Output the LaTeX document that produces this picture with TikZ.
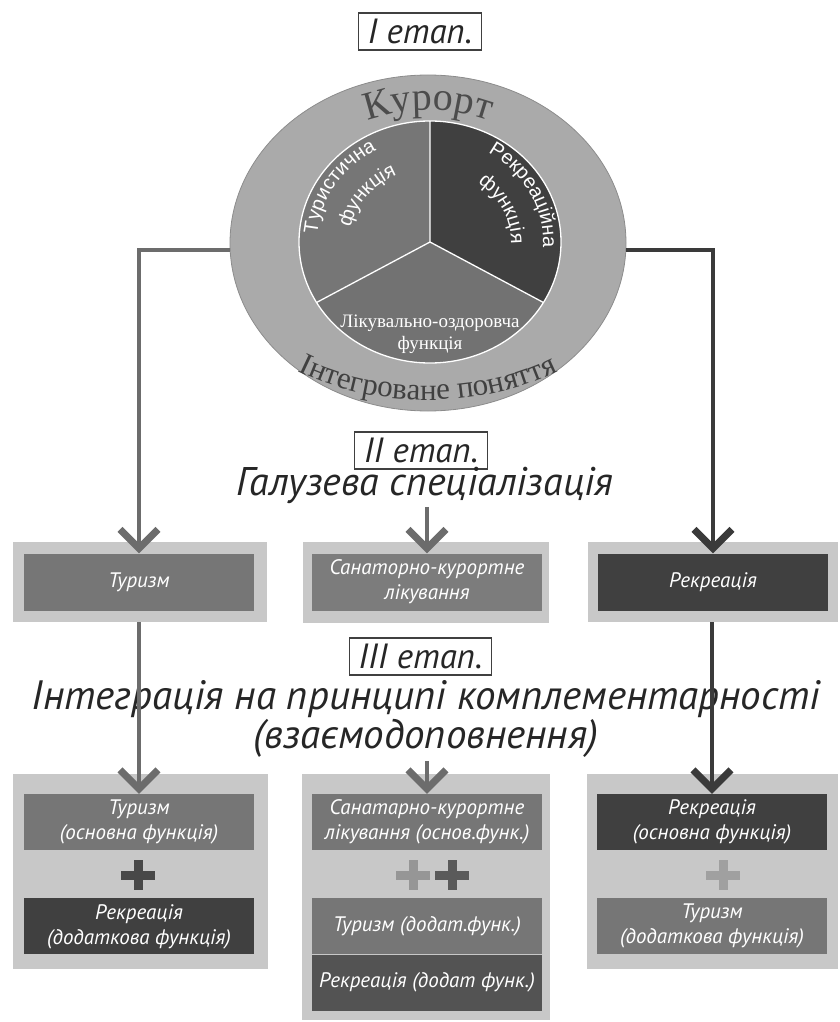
\documentclass[tikz,border=0pt]{standalone}
\usepackage{fontspec}
\setmainfont{PT Sans}
\newfontfamily\ringfont{Liberation Serif}
\newfontfamily\sectorfont{Liberation Sans}
\usetikzlibrary{arrows.meta,positioning,calc,shapes.geometric,fit,decorations.text}
\definecolor{ringgray}{RGB}{170,170,170}
\definecolor{tourgray}{RGB}{118,118,118}
\definecolor{recdark}{RGB}{64,64,64}
\definecolor{healgray}{RGB}{114,114,114}
\definecolor{sangray}{RGB}{124,124,124}
\definecolor{framegray}{RGB}{200,200,200}
\definecolor{arrowgray}{RGB}{108,108,108}
\definecolor{arrowdark}{RGB}{58,58,58}
\definecolor{pluslight}{RGB}{150,150,150}
\definecolor{plusdark}{RGB}{72,72,72}
\tikzset{
  stagebox/.style={draw=black!75,line width=1.1pt,inner xsep=9pt,inner ysep=1pt,
    minimum height=37,font=\fontsize{35}{35}\selectfont\itshape,text=black!85},
  headtext/.style={align=center,font=\fontsize{40}{29}\selectfont\itshape,text=black!85},
  framebox/.style={fill=framegray,inner sep=0pt},
  funcbox/.style={align=center,text=white,inner sep=0pt,minimum width=230,minimum height=56,
    font=\fontsize{21}{25}\selectfont\itshape},
  tourbox/.style={funcbox,fill=tourgray},
  recbox/.style={funcbox,fill=recdark},
  sanbox/.style={funcbox,fill=sangray},
  flowarrow/.style={line width=3.5pt,draw=arrowgray,
    -{Straight Barb[length=19pt,width=38pt,line width=7pt]}},
  darkarrow/.style={flowarrow,draw=arrowdark},
  ringtext/.style={decorate,decoration={text along path,text align=center,#1}},
  plusmark/.pic={\draw[line width=9pt] (-17,0) -- (17,0) (0,-15) -- (0,15);}
}
\begin{document}
\begin{tikzpicture}[x=1pt,y=-1pt]
  \useasboundingbox (0,0) rectangle (840,1022);
  % stage I: the resort as one notion
  \node[stagebox] (st1) at (420,31.5) {І етап.};
  \node[ellipse,fill=ringgray,draw=black!45,line width=0.8pt,
    minimum width=396,minimum height=336] (ring) at (428,243) {};
  \coordinate (hub) at (430,242);
  \fill[tourgray] (hub) -- ++(150:131 and 121)
    arc[start angle=150,end angle=270,x radius=131,y radius=121] -- cycle;
  \fill[recdark] (hub) -- ++(270:131 and 121)
    arc[start angle=270,end angle=390,x radius=131,y radius=121] -- cycle;
  \fill[healgray] (hub) -- ++(30:131 and 121)
    arc[start angle=30,end angle=150,x radius=131,y radius=121] -- cycle;
  \draw[white,line width=1.3pt] (hub) ellipse[x radius=131,y radius=121]
    (hub) -- ++(270:131 and 121) (hub) -- ++(150:131 and 121) (hub) -- ++(30:131 and 121);
  \path[ringtext={text={|\ringfont\fontsize{40}{40}\selectfont\color{black!70}|Курорт}}]
    ($(ring)+(232:155 and 133)$) arc[start angle=232,end angle=308,x radius=155,y radius=133];
  \path[ringtext={text={|\ringfont\fontsize{31}{31}\selectfont\color{black!75}|Інтегроване поняття}}]
    ($(ring)+(135:225 and 157)$) arc[start angle=135,end angle=45,x radius=225,y radius=157];
  \path[ringtext={text={|\sectorfont\fontsize{20}{20}\selectfont\color{white}|Туристична}}]
    ($(hub)+(152:113 and 104)$) arc[start angle=152,end angle=272,x radius=113,y radius=104];
  \path[ringtext={text={|\sectorfont\fontsize{20}{20}\selectfont\color{white}|функція}}]
    ($(hub)+(157:81 and 73)$) arc[start angle=157,end angle=277,x radius=81,y radius=73];
  \path[ringtext={text={|\sectorfont\fontsize{20}{20}\selectfont\color{white}|Рекреаційна}}]
    ($(hub)+(273:113 and 104)$) arc[start angle=273,end angle=393,x radius=113,y radius=104];
  \path[ringtext={text={|\sectorfont\fontsize{20}{20}\selectfont\color{white}|функція}}]
    ($(hub)+(275:81 and 73)$) arc[start angle=275,end angle=395,x radius=81,y radius=73];
  \node[align=center,text=white,font=\ringfont\fontsize{19}{22}\selectfont] (heal) at (430,334)
    {Лікувально-оздоровча\\функція};

  % stage II: branch specialisation
  \node[stagebox] (st2) at (421,450.5) {ІІ етап.};
  \node[headtext] (spec) at (425,485) {Галузева спеціалізація};
  \node[framebox,minimum width=254,minimum height=80] (ftur) at (140,582) {};
  \node[framebox,minimum width=246,minimum height=81] (fsan) at (426,582.5) {};
  \node[framebox,minimum width=250,minimum height=80] (frec) at (713,582) {};
  \node[tourbox,minimum height=57] (tur) at (139,582) {Туризм};
  \node[sanbox,minimum height=57] (san) at (427,582) {Санаторно-курортне\\лікування};
  \node[recbox,minimum height=57] (rec) at (713,582) {Рекреація};

  % stage III: complementary integration
  \node[stagebox] (st3) at (420.5,656.5) {ІІІ етап.};
  \node[headtext,font=\fontsize{41}{28}\selectfont\itshape] (integ) at (426,719)
    {Інтеграція на принципі комплементарності\\(взаємодоповнення)};
  \node[framebox,minimum width=255,minimum height=195] (fturb) at (140.5,871.5) {};
  \node[framebox,minimum width=248,minimum height=246] (fsanb) at (426,897) {};
  \node[framebox,minimum width=251,minimum height=195] (frecb) at (712.5,871.5) {};
  \node[tourbox] (turmain) at (139,822) {Туризм\\(основна функція)};
  \node[recbox,below=48pt of turmain] (recadd) {Рекреація\\(додаткова функція)};
  \node[sanbox,fill=sangray!95!black] (sanmain) at (427,822) {Санатарно-курортне\\лікування (основ.функ.)};
  \node[tourbox,below=48pt of sanmain] (touradd) {Туризм (додат.функ.)};
  \node[recbox,fill=recdark!90!white,below=0pt of touradd] (recadd2) {Рекреація (додат функ.)};
  \node[recbox] (recmain) at (712,822) {Рекреація\\(основна функція)};
  \node[tourbox,below=48pt of recmain] (touradd2) {Туризм\\(додаткова функція)};
  \pic[color=plusdark] at (138,875) {plusmark};
  \pic[color=pluslight] at (413,875) {plusmark};
  \pic[color=plusdark!90!white] at (452,875) {plusmark};
  \pic[color=pluslight!90!white] at (723,875) {plusmark};

  % connectors
  \draw[flowarrow] (ring.182) -| (tur.north);
  \draw[darkarrow] (ring.358) -| (rec.north);
  \draw[flowarrow] (spec.south -| san.north) -- (san.north);
  \draw[flowarrow] (turmain.north |- ftur.south) -- (turmain.north);
  \draw[flowarrow] (integ.south -| sanmain.north) -- (sanmain.north);
  \draw[darkarrow] (recmain.north |- frec.south) -- (recmain.north);
\end{tikzpicture}
\end{document}
